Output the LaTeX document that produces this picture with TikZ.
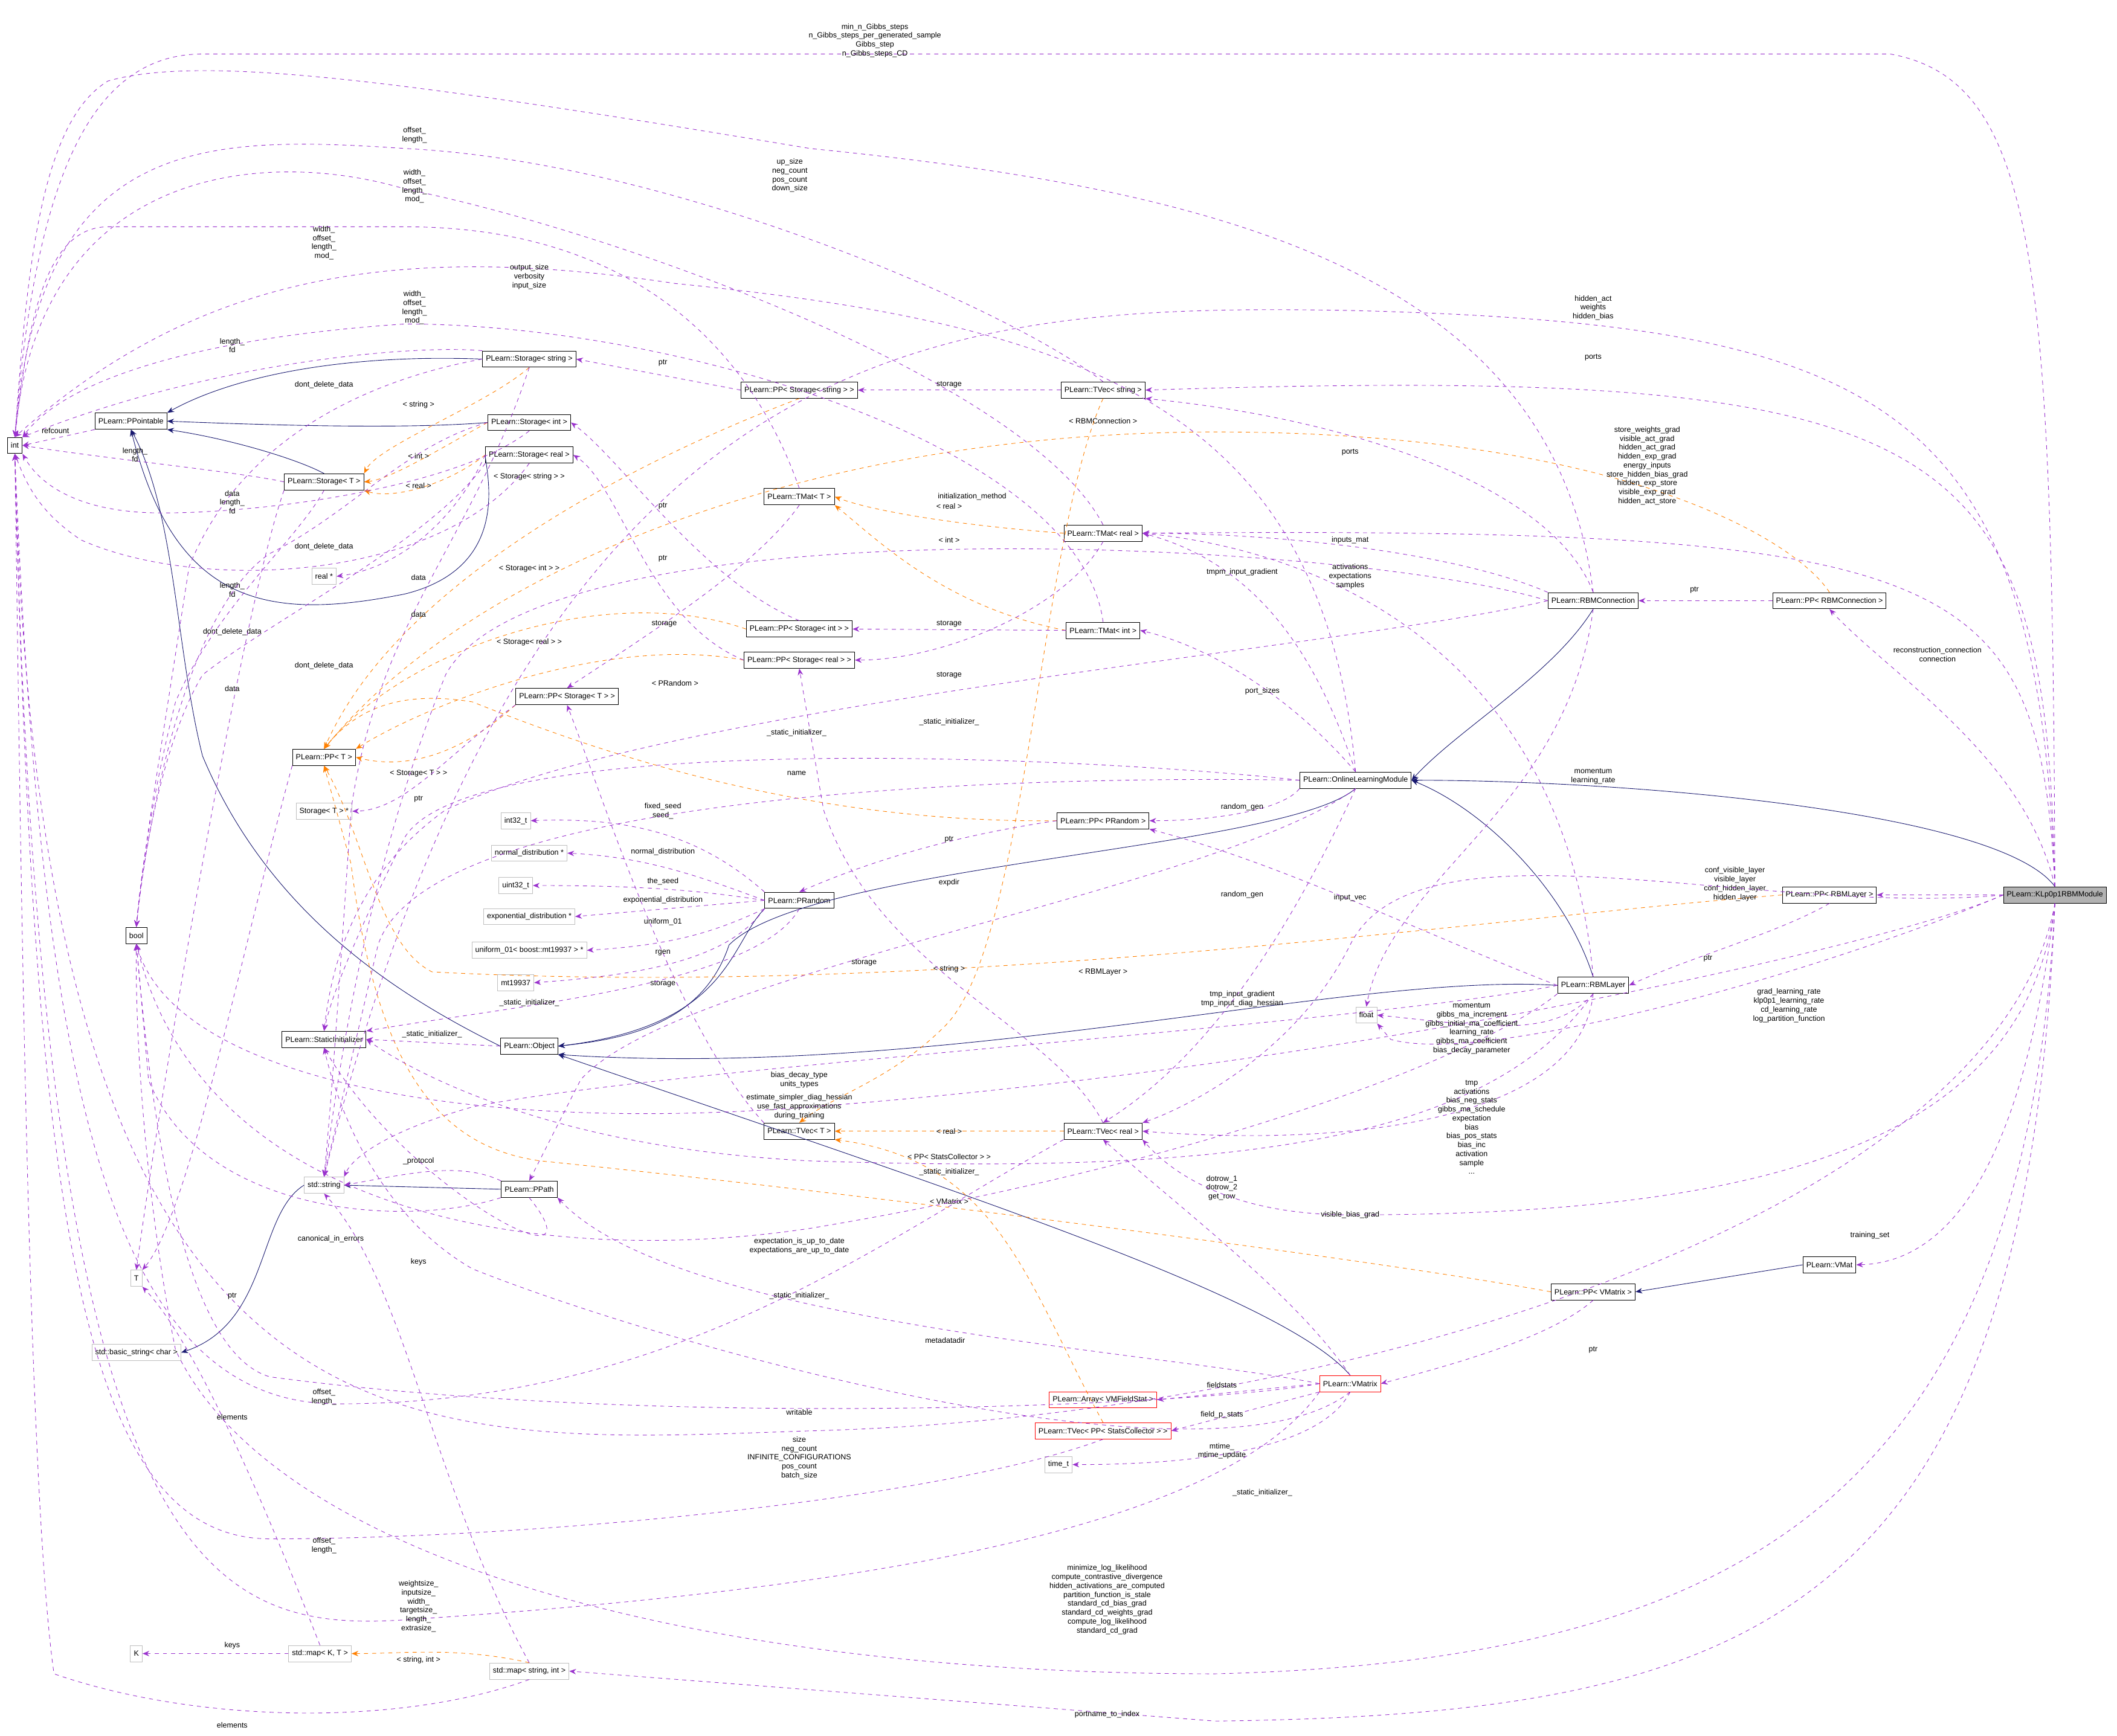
\documentclass[tikz,border=0pt]{standalone}
\usepackage{fontspec}
\setmainfont{Liberation Sans}
\usetikzlibrary{arrows.meta}
\definecolor{usec}{RGB}{154,50,205}
\definecolor{inhc}{RGB}{25,25,112}
\begin{document}
\begin{tikzpicture}[x=1pt,y=-1pt,
 font=\fontsize{5.6}{6.3}\selectfont,
 cls/.style={draw=black,fill=white,inner sep=2.5pt,minimum height=12pt,line width=0.45pt},
 ext/.style={draw=black!25,fill=white,inner sep=2.5pt,minimum height=12pt},
 redb/.style={draw=red,fill=white,inner sep=2.5pt,minimum height=12pt},
 hl/.style={draw=black,fill=black!30,inner sep=2.5pt,minimum height=12pt,line width=0.45pt},
 lb/.style={align=center,inner sep=0pt,font=\fontsize{5.6}{6.6}\selectfont},
 use/.style={draw=usec,dashed,-{Stealth[length=5pt,width=4pt]}},
 tpl/.style={draw=orange,dashed,-{Stealth[length=5pt,width=4pt]}},
 inh/.style={draw=inhc,-{Stealth[length=5pt,width=4pt]}}]
\useasboundingbox (0,0) rectangle (1568,1286);
% nodes
\node[cls] (int) at (11,330) {int};
\node[cls] (ppt) at (97,312) {PLearn::PPointable};
\node[cls] (stT) at (240,357) {PLearn::Storage< T >};
\node[cls] (sts) at (392,266) {PLearn::Storage< string >};
\node[cls] (sti) at (392,313) {PLearn::Storage< int >};
\node[cls] (str) at (392,337) {PLearn::Storage< real >};
\node[ext] (realp) at (240,427) {real *};
\node[cls] (ppT) at (240,561) {PLearn::PP< T >};
\node[ext] (stTp) at (240,601) {Storage< T > *};
\node[cls] (bool) at (101,693) {bool};
\node[cls] (si) at (240,770) {PLearn::StaticInitializer};
\node[ext] (sstr) at (240,878) {std::string};
\node[ext] (T) at (101,947) {T};
\node[ext] (bstr) at (101,1002) {std::basic\_string< char >};
\node[ext] (K) at (101,1225) {K};
\node[ext] (mapKT) at (237,1225) {std::map< K, T >};
\node[ext] (mapsi) at (392,1238) {std::map< string, int >};
\node[ext] (i32) at (382,608) {int32\_t};
\node[ext] (nd) at (392,632) {normal\_distribution *};
\node[ext] (u32) at (382,656) {uint32\_t};
\node[ext] (ed) at (392,679) {exponential\_distribution *};
\node[ext] (u01) at (392,704) {uniform\_01< boost::mt19937 > *};
\node[ext] (mt) at (382,728) {mt19937};
\node[cls] (prand) at (592,667) {PLearn::PRandom};
\node[cls] (obj) at (392,775) {PLearn::Object};
\node[cls] (ppath) at (392,881) {PLearn::PPath};
\node[cls] (ppss) at (592,289) {PLearn::PP< Storage< string > >};
\node[cls] (tmT) at (592,368) {PLearn::TMat< T >};
\node[cls] (ppsi) at (592,466) {PLearn::PP< Storage< int > >};
\node[cls] (ppsr) at (592,489) {PLearn::PP< Storage< real > >};
\node[cls] (ppsT) at (420,516) {PLearn::PP< Storage< T > >};
\node[cls] (tvT) at (592,838) {PLearn::TVec< T >};
\node[cls] (tvs) at (817,289) {PLearn::TVec< string >};
\node[cls] (tmr) at (817,395) {PLearn::TMat< real >};
\node[cls] (tmi) at (817,467) {PLearn::TMat< int >};
\node[cls] (ppr) at (817,608) {PLearn::PP< PRandom >};
\node[cls] (tvr) at (817,838) {PLearn::TVec< real >};
\node[redb] (arr) at (817,1037) {PLearn::Array< VMFieldStat >};
\node[redb] (tvsc) at (817,1060) {PLearn::TVec< PP< StatsCollector > >};
\node[ext] (timet) at (784,1085) {time\_t};
\node[cls] (olm) at (1004,578) {PLearn::OnlineLearningModule};
\node[cls] (rbmc) at (1180,445) {PLearn::RBMConnection};
\node[cls] (rbml) at (1180,730) {PLearn::RBMLayer};
\node[ext] (float) at (1012,752) {float};
\node[cls] (pprc) at (1355,445) {PLearn::PP< RBMConnection >};
\node[cls] (pprl) at (1355,663) {PLearn::PP< RBMLayer >};
\node[cls] (vmat) at (1355,937) {PLearn::VMat};
\node[cls] (ppvm) at (1180,957) {PLearn::PP< VMatrix >};
\node[redb] (vmx) at (1000,1025) {PLearn::VMatrix};
\node[hl] (klp) at (1522,663) {PLearn::KLp0p1RBMModule};
% inheritance
\draw[inh] (sts.west) .. controls (250,262) and (170,280) .. (ppt.north east);
\draw[inh] (sti.west) .. controls (300,318) and (200,315) .. (ppt.east);
\draw[inh] (stT.north) .. controls (220,340) and (170,325) .. (ppt.south east);
\draw[inh] (str.west) .. controls (360,350) and (380,420) .. (300,440) .. controls (200,460) and (130,450) .. (ppt.south);
\draw[inh] (obj.west) .. controls (300,740) and (200,680) .. (150,560) .. controls (130,480) and (130,380) .. (ppt.south);
\draw[inh] (prand.south west) .. controls (540,700) and (540,760) .. (obj.east);
\draw[inh] (olm.south) .. controls (950,630) and (600,640) .. (540,700) .. controls (520,760) and (460,770) .. (obj.east);
\draw[inh] (rbml.west) .. controls (1000,720) and (700,800) .. (obj.south east);
\draw[inh] (vmx.north) .. controls (950,960) and (700,880) .. (obj.south east);
\draw[inh] (rbmc.south) .. controls (1150,500) and (1080,540) .. (olm.east);
\draw[inh] (rbml.north) .. controls (1160,660) and (1100,600) .. (olm.east);
\draw[inh] (klp.north) .. controls (1480,600) and (1200,578) .. (olm.east);
\draw[inh] (ppath.west) -- (sstr.east);
\draw[inh] (sstr.west) .. controls (190,900) and (200,980) .. (bstr.east);
\draw[inh] (vmat.west) -- (ppvm.east);
% templates
\draw[tpl] (sts.south) .. controls (360,300) and (280,330) .. (stT.north east);
\node[lb] (t1) at (310,300) {< string >};
\draw[tpl] (sti.west) .. controls (330,330) and (290,355) .. (stT.east);
\node[lb] (t2) at (310,338) {< int >};
\draw[tpl] (str.west) .. controls (330,360) and (290,370) .. (stT.south east);
\node[lb] (t3) at (310,360) {< real >};
\draw[tpl] (ppss.south) .. controls (500,330) and (300,420) .. (ppT.north);
\node[lb] (t4) at (392,353) {< Storage< string > >};
\draw[tpl] (ppsi.west) .. controls (450,430) and (300,480) .. (ppT.north);
\node[lb] (t5) at (392,421) {< Storage< int > >};
\draw[tpl] (ppsr.west) .. controls (450,470) and (320,520) .. (ppT.north east);
\node[lb] (t6) at (392,476) {< Storage< real > >};
\draw[tpl] (ppsT.south west) .. controls (340,560) and (300,570) .. (ppT.east);
\node[lb] (t7) at (310,573) {< Storage< T > >};
\draw[tpl] (ppr.west) .. controls (600,610) and (450,560) .. (350,520) .. controls (290,510) and (260,530) .. (ppT.north);
\node[lb] (t8) at (500,506) {< PRandom >};
\draw[tpl] (pprc.north) .. controls (1330,400) and (1200,320) .. (900,320) .. controls (600,320) and (350,420) .. (ppT.north);
\node[lb] (t9) at (817,312) {< RBMConnection >};
\draw[tpl] (pprl.west) .. controls (1100,680) and (700,740) .. (320,720) .. controls (280,700) and (270,620) .. (ppT.south);
\node[lb] (t10) at (817,720) {< RBMLayer >};
\draw[tpl] (ppvm.west) .. controls (1000,930) and (600,880) .. (400,860) .. controls (330,850) and (280,800) .. (260,640) -- (ppT.south);
\node[lb] (t11) at (703,890) {< VMatrix >};
\draw[tpl] (tmr.west) .. controls (720,390) and (650,380) .. (tmT.east);
\node[lb] (t12) at (703,375) {< real >};
\draw[tpl] (tmi.west) .. controls (700,450) and (650,400) .. (tmT.south east);
\node[lb] (t13) at (703,400) {< int >};
\draw[tpl] (tvr.west) -- (tvT.east);
\node[lb] (t14) at (703,838) {< real >};
\draw[tpl] (tvs.south) .. controls (770,400) and (760,700) .. (700,760) .. controls (660,800) and (620,810) .. (tvT.north);
\node[lb] (t15) at (703,718) {< string >};
\draw[tpl] (tvsc.north) .. controls (760,950) and (740,860) .. (tvT.south east);
\node[lb] (t16) at (703,857) {< PP< StatsCollector > >};
\draw[tpl] (mapsi.north) .. controls (340,1220) and (300,1225) .. (mapKT.east);
\node[lb] (t17) at (310,1230) {< string, int >};
% usage to int
\draw[use] (klp.north) .. controls (1520,200) and (1510,60) .. (1400,40) -- (150,40) .. controls (60,40) and (25,150) .. (int.north);
\node[lb] (u1) at (648,30) {min\_n\_Gibbs\_steps\\n\_Gibbs\_steps\_per\_generated\_sample\\Gibbs\_step\\n\_Gibbs\_steps\_CD};
\draw[use] (rbmc.north) .. controls (1150,200) and (900,140) .. (600,110) .. controls (300,60) and (150,40) .. (80,60) .. controls (30,90) and (20,200) .. (int.north);
\node[lb] (u2) at (585,130) {up\_size\\neg\_count\\pos\_count\\down\_size};
\draw[use] (tvs.north) .. controls (750,230) and (500,120) .. (300,110) .. controls (150,100) and (30,100) .. (int.north);
\node[lb] (u3) at (307,100) {offset\_\\length\_};
\draw[use] (tmr.north) .. controls (760,280) and (450,170) .. (300,140) .. controls (200,110) and (30,120) .. (int.north);
\node[lb] (u4) at (307,138) {width\_\\offset\_\\length\_\\mod\_};
\draw[use] (tmT.north) .. controls (560,270) and (480,168) .. (300,168) -- (80,168) .. controls (30,168) and (20,250) .. (int.north);
\node[lb] (u5) at (240,180) {width\_\\offset\_\\length\_\\mod\_};
\draw[use] (olm.north) .. controls (980,300) and (800,240) .. (500,210) .. controls (300,180) and (150,200) .. (int.north);
\node[lb] (u6) at (392,205) {output\_size\\verbosity\\input\_size};
\draw[use] (tmi.north) .. controls (800,330) and (500,240) .. (300,240) .. controls (150,250) and (50,280) .. (int.north east);
\node[lb] (u7) at (307,228) {width\_\\offset\_\\length\_\\mod\_};
\draw[use] (sts.north west) .. controls (300,255) and (150,270) .. (int.north east);
\node[lb] (u8) at (172,256) {length\_\\fd};
\draw[use] (ppt.south west) -- (int.east);
\node[lb] (u9) at (41,319) {refcount};
\draw[use] (stT.west) .. controls (180,350) and (80,340) .. (int.east);
\node[lb] (u10) at (100,337) {length\_\\fd};
\draw[use] (sti.south) .. controls (340,360) and (200,380) .. (120,380) .. controls (60,380) and (30,360) .. (int.south east);
\node[lb] (u11) at (172,372) {data\\length\_\\fd};
\draw[use] (str.south) .. controls (330,430) and (150,440) .. (60,400) .. controls (30,380) and (20,360) .. (int.south);
\node[lb] (u12) at (172,437) {length\_\\fd};
\draw[use] (mapsi.south) .. controls (300,1278) and (150,1278) .. (40,1240) .. controls (20,1100) and (15,600) .. (int.south);
\node[lb] (u13) at (172,1278) {elements};
\draw[use] (vmx.south west) .. controls (900,1140) and (600,1180) .. (300,1200) .. controls (150,1210) and (30,1160) .. (int.south);
\node[lb] (u14) at (310,1190) {weightsize\_\\inputsize\_\\width\_\\targetsize\_\\length\_\\extrasize\_};
\draw[use] (tvsc.south) .. controls (700,1110) and (400,1140) .. (200,1140) .. controls (60,1140) and (25,900) .. (int.south);
\node[lb] (u15) at (240,1145) {offset\_\\length\_};
\draw[use] (klp.south) .. controls (1480,900) and (1000,1050) .. (600,1060) .. controls (300,1070) and (30,1100) .. (int.south);
\node[lb] (u16) at (592,1080) {size\\neg\_count\\INFINITE\_CONFIGURATIONS\\pos\_count\\batch\_size};
\draw[use] (tvr.south west) .. controls (650,920) and (500,1040) .. (250,1040) .. controls (80,1040) and (30,800) .. (int.south);
\node[lb] (u17) at (240,1035) {offset\_\\length\_};
% bool
\draw[use] (sts.west) .. controls (280,280) and (180,320) .. (140,420) .. controls (120,550) and (105,640) .. (bool.north);
\node[lb] (b1) at (240,285) {dont\_delete\_data};
\draw[use] (sti.west) .. controls (300,330) and (260,380) .. (200,410) .. controls (140,450) and (110,600) .. (bool.north);
\node[lb] (b2) at (240,405) {dont\_delete\_data};
\draw[use] (str.south west) .. controls (320,400) and (200,460) .. (150,500) .. controls (120,550) and (105,640) .. (bool.north);
\node[lb] (b3) at (172,468) {dont\_delete\_data};
\draw[use] (stT.south) .. controls (220,400) and (160,450) .. (130,520) .. controls (115,580) and (105,640) .. (bool.north);
\node[lb] (b4) at (240,493) {dont\_delete\_data};
\draw[use] (rbml.south west) .. controls (1100,780) and (900,860) .. (600,910) .. controls (400,940) and (150,900) .. (bool.south);
\node[lb] (b5) at (592,923) {expectation\_is\_up\_to\_date\\expectations\_are\_up\_to\_date};
\draw[use] (klp.west) .. controls (1400,700) and (1000,790) .. (600,820) .. controls (350,840) and (130,800) .. (bool.south);
\node[lb] (b6) at (592,820) {estimate\_simpler\_diag\_hessian\\use\_fast\_approximations\\during\_training};
\draw[use] (ppath.south west) .. controls (300,910) and (150,900) .. (110,800) -- (bool.south);
\node[lb] (b7) at (245,918) {canonical\_in\_errors};
\draw[use] (vmx.west) .. controls (900,1040) and (500,1060) .. (200,1020) .. controls (130,1000) and (110,800) .. (bool.south);
\node[lb] (b8) at (592,1046) {writable};
\draw[use] (klp.south) .. controls (1500,1100) and (1300,1230) .. (900,1240) .. controls (500,1240) and (200,1150) .. (130,1000) .. controls (110,900) and (100,780) .. (bool.south);
\node[lb] (b9) at (820,1185) {minimize\_log\_likelihood\\compute\_contrastive\_divergence\\hidden\_activations\_are\_computed\\partition\_function\_is\_stale\\standard\_cd\_bias\_grad\\standard\_cd\_weights\_grad\\compute\_log\_likelihood\\standard\_cd\_grad};
% storages
\draw[use] (str.west) .. controls (340,380) and (300,420) .. (realp.east);
\node[lb] (d1) at (310,428) {data};
\draw[use] (sts.south) .. controls (350,400) and (280,460) .. (260,600) .. controls (250,750) and (245,820) .. (sstr.north);
\node[lb] (d2) at (310,455) {data};
\draw[use] (stT.south west) .. controls (180,450) and (120,800) .. (T.north);
\node[lb] (d3) at (172,510) {data};
\draw[use] (ppss.west) -- (sts.east);
\node[lb] (p1) at (491,269) {ptr};
\draw[use] (ppsi.north) .. controls (520,430) and (460,340) .. (sti.east);
\node[lb] (p2) at (491,375) {ptr};
\draw[use] (ppsr.west) .. controls (480,460) and (460,360) .. (str.east);
\node[lb] (p3) at (491,414) {ptr};
\draw[use] (ppsT.south west) .. controls (330,560) and (300,600) .. (stTp.east);
\node[lb] (p4) at (310,592) {ptr};
\draw[use] (ppT.south west) .. controls (180,700) and (140,900) .. (T.north east);
\node[lb] (p5) at (172,960) {ptr};
\draw[use] (tvs.west) -- (ppss.east);
\node[lb] (s1) at (703,285) {storage};
\draw[use] (tmi.west) -- (ppsi.east);
\node[lb] (s2) at (703,462) {storage};
\draw[use] (tmr.south) .. controls (790,450) and (700,489) .. (ppsr.east);
\node[lb] (s3) at (703,500) {storage};
\draw[use] (tmT.south) .. controls (560,420) and (480,470) .. (ppsT.north);
\node[lb] (s4) at (492,462) {storage};
\draw[use] (tvr.north) .. controls (780,760) and (650,720) .. (610,600) -- (ppsr.south);
\node[lb] (s5) at (640,713) {storage};
\draw[use] (tvT.north west) .. controls (500,760) and (450,600) .. (ppsT.south);
\node[lb] (s6) at (491,729) {storage};
% PRandom
\draw[use] (prand.north west) .. controls (520,620) and (470,605) .. (i32.east);
\node[lb] (r1) at (491,601) {fixed\_seed\\seed\_};
\draw[use] (prand.west) .. controls (520,650) and (480,635) .. (nd.east);
\node[lb] (r2) at (491,631) {normal\_distribution};
\draw[use] (prand.west) .. controls (520,660) and (480,656) .. (u32.east);
\node[lb] (r3) at (491,653) {the\_seed};
\draw[use] (prand.west) -- (ed.east);
\node[lb] (r4) at (491,667) {exponential\_distribution};
\draw[use] (prand.south west) .. controls (530,690) and (500,700) .. (u01.east);
\node[lb] (r5) at (491,683) {uniform\_01};
\draw[use] (prand.south west) .. controls (540,710) and (480,722) .. (mt.east);
\node[lb] (r6) at (491,706) {rgen};
\draw[use] (ppr.west) .. controls (700,620) and (640,640) .. (prand.north);
\node[lb] (r7) at (703,622) {ptr};
% static initializer
\draw[use] (obj.west) -- (si.east);
\node[lb] (si1) at (320,766) {\_static\_initializer\_};
\draw[use] (prand.south) .. controls (560,730) and (380,745) .. (si.north east);
\node[lb] (si2) at (392,743) {\_static\_initializer\_};
\draw[use] (rbmc.west) .. controls (1000,480) and (500,520) .. (330,600) .. controls (260,650) and (245,720) .. (si.north);
\node[lb] (si3) at (703,535) {\_static\_initializer\_};
\draw[use] (olm.west) .. controls (800,560) and (350,540) .. (300,620) .. controls (260,700) and (245,740) .. (si.north);
\node[lb] (si4) at (590,543) {\_static\_initializer\_};
\draw[use] (rbml.south) .. controls (1100,850) and (900,870) .. (600,860) .. controls (400,850) and (300,790) .. (si.east);
\node[lb] (si5) at (703,868) {\_static\_initializer\_};
\draw[use] (ppath.south) .. controls (450,960) and (300,880) .. (si.south);
\node[lb] (si6) at (592,960) {\_static\_initializer\_};
\draw[use] (vmx.south) .. controls (900,1110) and (500,1000) .. (350,940) .. controls (280,900) and (250,820) .. (si.south);
\node[lb] (si7) at (935,1106) {\_static\_initializer\_};
% strings
\draw[use] (olm.west) .. controls (800,575) and (320,580) .. (280,700) -- (sstr.north);
\node[lb] (n1) at (590,573) {name};
\draw[use] (rbmc.west) .. controls (1000,400) and (400,370) .. (330,500) .. controls (270,650) and (250,800) .. (sstr.north);
\node[lb] (n2) at (720,368) {initialization\_method};
\draw[use] (rbml.west) .. controls (1000,760) and (500,790) .. (350,820) .. controls (280,840) and (260,860) .. (sstr.north east);
\node[lb] (n3) at (592,800) {bias\_decay\_type\\units\_types};
\draw[use] (ppath.north west) .. controls (340,860) and (300,870) .. (sstr.east);
\node[lb] (n4) at (310,860) {\_protocol};
\draw[use] (mapsi.north) .. controls (320,1100) and (300,950) .. (sstr.south);
\node[lb] (n5) at (310,935) {keys};
% right region
\draw[use] (klp.north) .. controls (1510,300) and (1400,240) .. (1000,230) .. controls (700,225) and (400,240) .. (sstr.north);
\node[lb] (k1) at (1180,228) {hidden\_act\\weights\\hidden\_bias};
\draw[use] (klp.north) .. controls (1515,320) and (1450,270) .. (tvs.east);
\node[lb] (k2) at (1180,265) {ports};
\draw[use] (klp.north) .. controls (1510,420) and (1450,390) .. (tmr.east);
\node[lb] (k3) at (1220,345) {store\_weights\_grad\\visible\_act\_grad\\hidden\_act\_grad\\hidden\_exp\_grad\\energy\_inputs\\store\_hidden\_bias\_grad\\hidden\_exp\_store\\visible\_exp\_grad\\hidden\_act\_store};
\draw[use] (rbmc.north) .. controls (1150,360) and (1000,310) .. (tvs.south east);
\node[lb] (k4) at (1000,335) {ports};
\draw[use] (rbmc.north west) .. controls (1080,410) and (950,395) .. (tmr.east);
\node[lb] (k5) at (1000,400) {inputs\_mat};
\draw[use] (rbml.north) .. controls (1160,500) and (1000,410) .. (tmr.east);
\node[lb] (k6) at (1000,427) {activations\\expectations\\samples};
\draw[use] (olm.north) .. controls (980,500) and (940,420) .. (tmr.east);
\node[lb] (k7) at (920,424) {tmpm\_input\_gradient};
\draw[use] (olm.north) .. controls (960,520) and (900,480) .. (tmi.east);
\node[lb] (k8) at (935,512) {port\_sizes};
\draw[use] (olm.south west) .. controls (950,600) and (900,608) .. (ppr.east);
\node[lb] (k9) at (920,598) {random\_gen};
\draw[use] (rbml.west) .. controls (1050,690) and (950,640) .. (ppr.south east);
\node[lb] (k10) at (920,663) {random\_gen};
\draw[use] (olm.south) .. controls (900,660) and (500,720) .. (430,800) -- (ppath.north);
\node[lb] (k11) at (703,654) {expdir};
\draw[use] (rbmc.south) .. controls (1160,600) and (1030,650) .. (float.north);
\node[lb] (k12) at (1180,575) {momentum\\learning\_rate};
\draw[use] (klp.west) -- (pprl.east);
\node[lb] (k13) at (1285,655) {conf\_visible\_layer\\visible\_layer\\conf\_hidden\_layer\\hidden\_layer};
\draw[use] (pprl.south) .. controls (1320,690) and (1250,710) .. (rbml.east);
\node[lb] (k14) at (1265,710) {ptr};
\draw[use] (klp.north) .. controls (1500,560) and (1400,500) .. (pprc.south);
\node[lb] (k15) at (1435,485) {reconstruction\_connection\\connection};
\draw[use] (pprc.west) -- (rbmc.east);
\node[lb] (k16) at (1255,437) {ptr};
\draw[use] (klp.west) .. controls (1300,680) and (1050,600) .. (1000,700) .. controls (960,780) and (880,820) .. (tvr.north east);
\node[lb] (k17) at (1000,665) {input\_vec};
\draw[use] (olm.south) .. controls (960,680) and (900,780) .. (tvr.north);
\node[lb] (k18) at (920,740) {tmp\_input\_gradient\\tmp\_input\_diag\_hessian};
\draw[use] (rbml.south) .. controls (1150,770) and (1100,760) .. (float.east);
\node[lb] (k19) at (1090,762) {momentum\\gibbs\_ma\_increment\\gibbs\_initial\_ma\_coefficient\\learning\_rate\\gibbs\_ma\_coefficient\\bias\_decay\_parameter};
\draw[use] (klp.west) .. controls (1350,720) and (1100,790) .. (1030,770) -- (float.south east);
\node[lb] (k20) at (1325,745) {grad\_learning\_rate\\klp0p1\_learning\_rate\\cd\_learning\_rate\\log\_partition\_function};
\draw[use] (rbml.south) .. controls (1170,830) and (1000,850) .. (tvr.east);
\node[lb] (k21) at (1090,835) {tmp\\activations\\bias\_neg\_stats\\gibbs\_ma\_schedule\\expectation\\bias\\bias\_pos\_stats\\bias\_inc\\activation\\sample\\...};
\draw[use] (vmx.north) .. controls (960,960) and (880,900) .. (tvr.south);
\node[lb] (k22) at (905,880) {dotrow\_1\\dotrow\_2\\get\_row};
\draw[use] (klp.south) .. controls (1500,850) and (1300,900) .. (1000,900) .. controls (900,900) and (860,860) .. (tvr.south east);
\node[lb] (k23) at (1000,900) {visible\_bias\_grad};
\draw[use] (klp.south) .. controls (1500,850) and (1450,935) .. (vmat.east);
\node[lb] (k24) at (1385,915) {training\_set};
\draw[use] (ppvm.south) .. controls (1150,990) and (1080,1010) .. (vmx.east);
\node[lb] (k25) at (1180,1000) {ptr};
\draw[use] (vmx.west) .. controls (850,1000) and (500,980) .. (ppath.south east);
\node[lb] (k26) at (700,993) {metadatadir};
\draw[use] (vmx.west) -- (arr.east);
\node[lb] (k27) at (905,1026) {fieldstats};
\draw[use] (vmx.south west) -- (tvsc.east);
\node[lb] (k28) at (905,1048) {field\_p\_stats};
\draw[use] (vmx.south) .. controls (980,1070) and (900,1085) .. (timet.east);
\node[lb] (k29) at (905,1075) {mtime\_\\mtime\_update};
\draw[use] (klp.south) .. controls (1500,1200) and (1300,1270) .. (900,1275) -- (mapsi.east);
\node[lb] (k30) at (820,1270) {portname\_to\_index};
\draw[use] (mapKT.west) -- (K.east);
\node[lb] (k31) at (172,1219) {keys};
\draw[use] (mapKT.north) .. controls (210,1150) and (150,1000) .. (T.south east);
\node[lb] (k32) at (172,1050) {elements};
\end{tikzpicture}
\end{document}
